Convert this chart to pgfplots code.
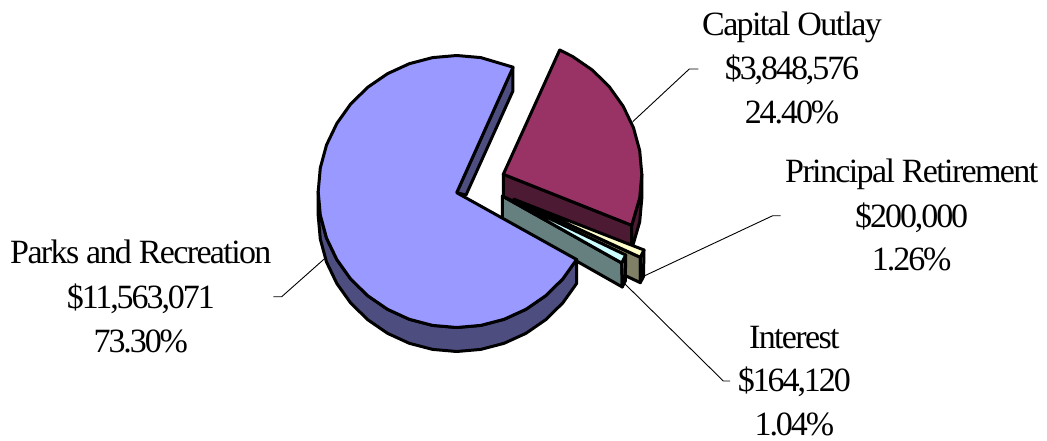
\documentclass[border=0pt]{standalone}
\usepackage{fontspec}
\setmainfont[LetterSpace=-4.8]{Liberation Serif}
\newfontfamily\numf[LetterSpace=-6.1]{Liberation Serif}
\usepackage{pgfplots}
\pgfplotsset{compat=1.18}
\definecolor{parks}{HTML}{9999FF}
\definecolor{parksd}{HTML}{4D4D80}
\definecolor{capital}{HTML}{993366}
\definecolor{capitald}{HTML}{4D1A33}
\definecolor{interest}{HTML}{CCFFFF}
\definecolor{interestd}{HTML}{668080}
\definecolor{principal}{HTML}{FFFFCC}
\definecolor{principald}{HTML}{808066}
\tikzset{
    slice/.style={draw=black, line width=3pt, line join=round},
    leader/.style={draw=black, line width=0.9pt, mark=none},
    lab/.style={anchor=base, inner sep=0pt, font=\fontsize{34}{34}\selectfont},
}
\begin{document}
\begin{tikzpicture}
\begin{axis}[
    width=1047pt, height=441pt,
    scale only axis,
    xmin=0, xmax=1047, ymin=0, ymax=441,
    y dir=reverse,
    axis lines=none,
    clip=false,
]
% page frame, so the picture has the reference's size
\path[use as bounding box] (axis cs:0,0) rectangle (axis cs:1047,441);

% leader lines
\addplot[leader] coordinates {(273.3,296.7) (281.7,296.7) (325,258.3)};
\addplot[leader] coordinates {(698.3,69) (689.3,69) (632.7,121.7)};
\addplot[leader] coordinates {(780.7,215.7) (772.7,215.7) (642,277)};
\addplot[leader] coordinates {(730,381) (723.3,381) (624,283)};

% capital outlay: inner wall, outer wall, top
\addplot[slice, fill=capitald] coordinates {(503.3,174.3) (503.3,198.3) (631.7,249.3) (631.7,225.3)} --cycle;
\addplot[slice, fill=capitald] coordinates {(641.8,174.3) (641.8,198.3) (639.7,221.9) (631.7,249.3) (631.7,225.3) (639.7,197.9)} --cycle;
\addplot[slice, fill=capital] coordinates {(503.3,174.3) (559.7,50) (572.6,56.5) (592.4,70.1) (609.4,86.9) (623.2,106.3) (633.5,127.8) (639.7,150.6) (641.8,174.3) (639.7,197.9) (631.7,225.3)} --cycle;

% principal retirement
\addplot[slice, fill=principald] coordinates {(514,199.3) (514,223) (640.3,282.7) (640.3,257.3)} --cycle;
\addplot[slice, fill=principald] coordinates {(640.3,257.3) (644,250) (643.5,276.5) (640.3,282.7)} --cycle;
\addplot[slice, fill=principal] coordinates {(514,199.3) (640.3,257.3) (644,250)} --cycle;

% interest
\addplot[slice, fill=interestd] coordinates {(502.3,196) (502.3,219) (622.3,287) (621.7,263)} --cycle;
\addplot[slice, fill=interestd] coordinates {(621.7,263) (625.7,255) (625.3,281) (622.3,287)} --cycle;
\addplot[slice, fill=interest] coordinates {(502.3,196) (621.7,263) (625.7,255)} --cycle;

% parks and recreation: walls, then top
\addplot[slice, fill=parksd] coordinates {(512.9,67.3) (512.9,91) (466,195) (456.7,192.7)} --cycle;
\addplot[slice, fill=parksd] coordinates {(318.2,191.5) (318.2,215.5) (320.3,239.1) (326.5,262) (336.8,283.5) (350.6,302.9) (367.7,319.7) (387.5,333.3) (409.3,343.3) (432.6,349.4) (456.7,351.5) (480.8,349.4) (504.1,343.3) (526,333.3) (545.7,319.7) (562.8,302.9) (576.6,283.5) (576.6,259.5) (562.8,278.9) (545.7,295.7) (526,309.3) (504.1,319.3) (480.8,325.4) (456.7,327.5) (432.6,325.4) (409.3,319.3) (387.5,309.3) (367.7,295.7) (350.6,278.9) (336.8,259.5) (326.5,238) (320.3,215.1)} --cycle;
\addplot[slice, fill=parks] coordinates {(456.7,192.7) (513.1,67.2) (480.8,57.6) (456.7,55.5) (432.6,57.6) (409.3,63.7) (387.5,73.7) (367.7,87.3) (350.6,104.1) (336.8,123.5) (326.5,145) (320.3,167.9) (318.2,191.5) (320.3,215.1) (326.5,238) (336.8,259.5) (350.6,278.9) (367.7,295.7) (387.5,309.3) (409.3,319.3) (432.6,325.4) (456.7,327.5) (480.8,325.4) (504.1,319.3) (526,309.3) (545.7,295.7) (562.8,278.9) (576.6,259.5)} --cycle;

% labels
\node[lab] at (axis cs:792,36) {Capital Outlay};
\node[lab] at (axis cs:792,80) {\numf\$3,848,576};
\node[lab] at (axis cs:792,124) {\numf 24.40\%};
\node[lab] at (axis cs:911.7,182.7) {Principal Retirement};
\node[lab] at (axis cs:911.7,227) {\numf\$200,000};
\node[lab] at (axis cs:911.7,270) {\numf 1.26\%};
\node[lab] at (axis cs:794.3,348.3) {Interest};
\node[lab] at (axis cs:794.3,391.7) {\numf\$164,120};
\node[lab] at (axis cs:794.3,435.7) {\numf 1.04\%};
\node[lab] at (axis cs:140.8,263) {Parks and Recreation};
\node[lab] at (axis cs:140.8,308) {\numf\$11,563,071};
\node[lab] at (axis cs:140.8,352.7) {\numf 73.30\%};
\end{axis}
\end{tikzpicture}
\end{document}
